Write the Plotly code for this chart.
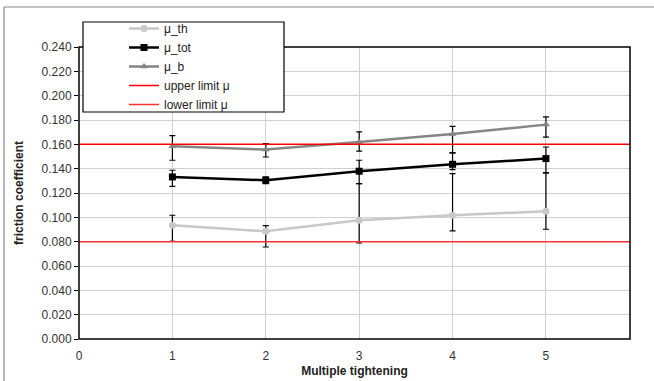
import plotly.graph_objects as go

x_vals = [1, 2, 3, 4, 5]

mu_th = [0.0935, 0.0885, 0.0976, 0.1017, 0.1050]
mu_th_plus = [0.0082, 0.0047, 0.0301, 0.0343, 0.0315]
mu_th_minus = [0.0132, 0.0129, 0.0187, 0.0129, 0.0148]

mu_tot = [0.1332, 0.1305, 0.1379, 0.1436, 0.1483]
mu_tot_plus = [0.0055, 0.0027, 0.0090, 0.0093, 0.0095]
mu_tot_minus = [0.0077, 0.0028, 0.0103, 0.0044, 0.0118]

mu_b = [0.1584, 0.1557, 0.1619, 0.1685, 0.1762]
mu_b_plus = [0.0088, 0.0049, 0.0083, 0.0063, 0.0063]
mu_b_minus = [0.0115, 0.0061, 0.0075, 0.0156, 0.0102]

limit_x = [0, 5.9]
upper_limit = [0.16, 0.16]
lower_limit = [0.08, 0.08]

y_ticks = [0.0, 0.02, 0.04, 0.06, 0.08, 0.10, 0.12, 0.14, 0.16, 0.18, 0.20, 0.22, 0.24]
y_ticktext = ["%.3f" % v for v in y_ticks]
x_ticks = [0, 1, 2, 3, 4, 5]

FONT = "Arial, Liberation Sans, sans-serif"

def err(plus, minus):
    return dict(type="data", symmetric=False, array=plus, arrayminus=minus,
                color="black", thickness=1.2, width=3)

fig = go.Figure()
fig.add_trace(go.Scatter(x=x_vals, y=mu_th, name="μ_th", mode="lines+markers",
                         line=dict(color="#c8c8c8", width=2.5),
                         marker=dict(symbol="circle", size=7, color="#c8c8c8"),
                         error_y=err(mu_th_plus, mu_th_minus)))
fig.add_trace(go.Scatter(x=x_vals, y=mu_tot, name="μ_tot", mode="lines+markers",
                         line=dict(color="black", width=2.5),
                         marker=dict(symbol="square", size=7, color="black"),
                         error_y=err(mu_tot_plus, mu_tot_minus)))
fig.add_trace(go.Scatter(x=x_vals, y=mu_b, name="μ_b", mode="lines+markers",
                         line=dict(color="#858585", width=2.5),
                         marker=dict(symbol="triangle-up", size=7, color="#858585"),
                         error_y=err(mu_b_plus, mu_b_minus)))
fig.add_trace(go.Scatter(x=limit_x, y=upper_limit, name="upper limit μ", mode="lines",
                         line=dict(color="#ff0000", width=1.5)))
fig.add_trace(go.Scatter(x=limit_x, y=lower_limit, name="lower limit μ", mode="lines",
                         line=dict(color="#ff3030", width=1.5)))

L, R, T, B = 79, 24, 47, 42
W, H = 654, 381
pw, ph = W - L - R, H - T - B

def px_x(p):
    return (p - L) / pw

def px_y(p):
    return (H - B - p) / ph

shapes = [
    dict(type="rect", xref="paper", yref="paper", x0=0, x1=1, y0=0, y1=1,
         line=dict(color="black", width=1.5), layer="above"),
    dict(type="line", xref="paper", yref="paper", x0=px_x(4), x1=px_x(660),
         y0=px_y(7), y1=px_y(7), line=dict(color="#888888", width=1.2)),
    dict(type="line", xref="paper", yref="paper", x0=px_x(4), x1=px_x(4),
         y0=px_y(7), y1=px_y(390), line=dict(color="#888888", width=1.2)),
    dict(type="rect", xref="paper", yref="paper", x0=px_x(83), x1=px_x(284),
         y0=px_y(112), y1=px_y(22), line=dict(color="black", width=1.2),
         fillcolor="white", layer="above"),
]

fig.update_layout(
    width=W, height=H,
    margin=dict(l=L, r=R, t=T, b=B),
    paper_bgcolor="white", plot_bgcolor="white",
    font=dict(family=FONT, size=12, color="#222"),
    showlegend=True,
    legend=dict(x=px_x(124), y=px_y(14), xanchor="left", yanchor="top",
                bgcolor="rgba(0,0,0,0)", borderwidth=0,
                font=dict(family=FONT, size=12, color="#222"),
                itemwidth=30, tracegroupgap=0),
    shapes=shapes,
    xaxis=dict(range=[0, 5.9], tickmode="array", tickvals=x_ticks,
               showgrid=True, gridcolor="#d0d0d0", gridwidth=1.2,
               zeroline=False, showline=False, automargin=False,
               ticks="outside", ticklen=6, tickcolor="rgba(0,0,0,0)",
               tickfont=dict(size=12, color="#333"),
               title=dict(text="<b>Multiple tightening</b>", font=dict(size=12, color="#222"),
                          standoff=4)),
    yaxis=dict(range=[0, 0.24], tickmode="array", tickvals=y_ticks, ticktext=y_ticktext,
               showgrid=True, gridcolor="#d0d0d0", gridwidth=1.2,
               zeroline=False, showline=False, automargin=False,
               ticks="outside", ticklen=4, tickcolor="black",
               tickfont=dict(size=12, color="#333"),
               title=dict(text="<b>friction coefficient</b>", font=dict(size=12, color="#222"),
                          standoff=15)),
)

fig.write_html("out.html")
